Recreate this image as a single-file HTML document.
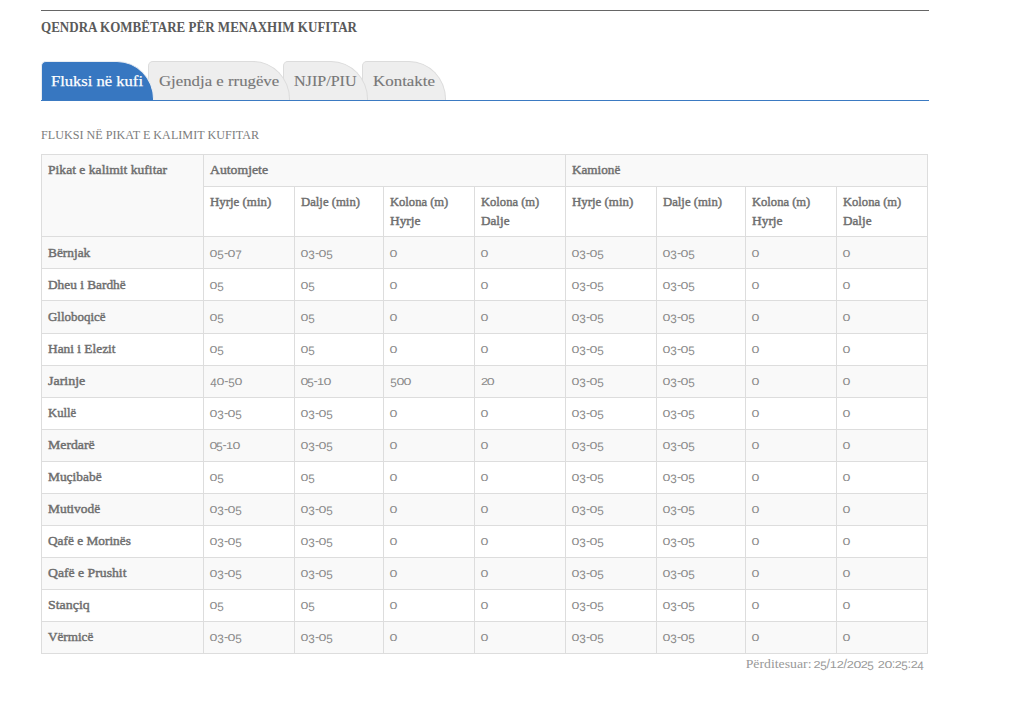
<!DOCTYPE html>
<html lang="sq"><head><meta charset="utf-8"><title>Qendra Kombëtare për Menaxhim Kufitar</title>
<style>
*{box-sizing:border-box;margin:0;padding:0}
html,body{width:1019px;height:704px;background:#fff;overflow:hidden}
body{font-family:"Liberation Serif",serif;color:#777;position:relative}
.t{white-space:pre;display:inline-block;transform-origin:0 0;vertical-align:top}
.title{font-size:14px;line-height:20px;font-weight:bold;color:#5a5a5a}
.tab{font-size:15.4px;line-height:20px;-webkit-text-stroke:.12px currentColor}
.on .tab{-webkit-text-stroke:.25px #fff}
.sec{font-size:13px;line-height:20px;color:#7c7c7c}
.th{font-size:13.4px;line-height:19px;font-weight:normal;color:#6e6e6e;-webkit-text-stroke:.45px #6e6e6e}
.td,.fnum{font-family:"Liberation Sans",sans-serif;font-size:12.7px;line-height:19px;color:#8a8a8a;position:relative;top:1px;text-rendering:geometricPrecision}
.foot{font-size:13.3px;line-height:19px;color:#999}
.fnum{color:#999}
/* old-style figure emulation: x = x-height digits, d = descending digits */
.td i,.fnum i{font-style:normal;display:inline-block;transform-origin:50% 14px}
i.z{transform:scale(1.12,.78);margin:0 .2px}
i.z:first-child{margin-left:.3px}
i.x{transform:scale(1,.78)}
i.d{transform:translateY(2px) scale(.92,.96);margin:0 -.4px}
#rule{position:absolute;left:41px;top:10px;width:888px;height:1px;background:#666}
#title{position:absolute;left:40.5px;top:18px;height:20px}
#tabs{position:absolute;left:41px;top:61px;width:888px;height:40px;border-bottom:1px solid #3b7ac2}
.tb{position:absolute;top:0;height:39px;border:1px solid #dcdcdc;border-bottom:0;background:#eee;color:#777;
  padding-top:9px;border-radius:5px 37px 0 0 / 5px 38px 0 0}
.tb.on{background:#3777c1;border-color:#e9edf2;color:#fff}
#sec{position:absolute;left:41px;top:125px;height:20px}
table{position:absolute;left:41px;top:154px;width:887px;border-collapse:collapse;table-layout:fixed}
td,th{border:1px solid #ddd;padding:5px 6px 7px;text-align:left;vertical-align:top;font-weight:normal;overflow:hidden;white-space:nowrap;font-size:13.4px;line-height:19px}
tr.g>*{background:#f9f9f9}
tr.w>*{background:#fff}
tr.h2>th{padding-bottom:6px}
tr.lo>td{padding-top:6px;padding-bottom:6px}
#foot{position:absolute;left:700px;top:654px;width:223.5px;height:19px;text-align:right;white-space:nowrap}
#foot .t{transform-origin:100% 0}
#foot .foot{margin-right:-2px}
</style></head><body>
<div id="rule"></div>
<div id="title"><span class="t title" style="transform:scaleX(0.9311)">QENDRA KOMBËTARE PËR MENAXHIM KUFITAR</span></div>
<div id="tabs">
<div class="tb on" style="left:0px;width:113px;padding-left:9px;z-index:4"><span class="t tab" style="transform:scaleX(1.0758)">Fluksi në kufi</span></div>
<div class="tb " style="left:107px;width:142px;padding-left:9.5px;z-index:3"><span class="t tab" style="transform:scaleX(1.0902)">Gjendja e rrugëve</span></div>
<div class="tb " style="left:242px;width:85px;padding-left:10.4px;z-index:2"><span class="t tab" style="transform:scaleX(1.0455)">NJIP/PIU</span></div>
<div class="tb " style="left:321px;width:84px;padding-left:10px;z-index:1"><span class="t tab" style="transform:scaleX(1.0989)">Kontakte</span></div>
</div>
<div id="sec"><span class="t sec" style="transform:scaleX(0.9334)">FLUKSI NË PIKAT E KALIMIT KUFITAR</span></div>
<table><colgroup><col style="width:162px"><col style="width:91px"><col style="width:89px"><col style="width:91px"><col style="width:91px"><col style="width:91px"><col style="width:89px"><col style="width:91px"><col style="width:91px"></colgroup>
<tr class="g" style="height:32px"><th rowspan="2"><span class="t th" style="transform:scaleX(1.0157)">Pikat e kalimit kufitar</span></th><th colspan="4"><span class="t th" style="transform:scaleX(1.026)">Automjete</span></th><th colspan="4"><span class="t th" style="transform:scaleX(0.9838)">Kamionë</span></th></tr>
<tr class="w h2" style="height:50px"><th><span class="t th" style="transform:scaleX(0.9624)">Hyrje (min)</span></th><th><span class="t th" style="transform:scaleX(0.9499)">Dalje (min)</span></th><th><span class="t th" style="transform:scaleX(0.9387)">Kolona (m)</span><br><span class="t th" style="transform:scaleX(1.0)">Hyrje</span></th><th><span class="t th" style="transform:scaleX(0.9387)">Kolona (m)</span><br><span class="t th" style="transform:scaleX(0.9828)">Dalje</span></th><th><span class="t th" style="transform:scaleX(0.9624)">Hyrje (min)</span></th><th><span class="t th" style="transform:scaleX(0.9499)">Dalje (min)</span></th><th><span class="t th" style="transform:scaleX(0.9387)">Kolona (m)</span><br><span class="t th" style="transform:scaleX(1.0)">Hyrje</span></th><th><span class="t th" style="transform:scaleX(0.9387)">Kolona (m)</span><br><span class="t th" style="transform:scaleX(0.9828)">Dalje</span></th></tr>
<tr class="g lo" style="height:32px"><td><span class="t th" style="transform:scaleX(0.9979)">Bërnjak</span></td><td><span class="t td" style="letter-spacing:0.03px"><i class="z">0</i><i class="d">5</i>-<i class="z">0</i><i class="d">7</i></span></td><td><span class="t td" style="letter-spacing:0.03px"><i class="z">0</i><i class="d">3</i>-<i class="z">0</i><i class="d">5</i></span></td><td><span class="t td" style="letter-spacing:0px"><i class="z">0</i></span></td><td><span class="t td" style="letter-spacing:0px"><i class="z">0</i></span></td><td><span class="t td" style="letter-spacing:0.03px"><i class="z">0</i><i class="d">3</i>-<i class="z">0</i><i class="d">5</i></span></td><td><span class="t td" style="letter-spacing:0.03px"><i class="z">0</i><i class="d">3</i>-<i class="z">0</i><i class="d">5</i></span></td><td><span class="t td" style="letter-spacing:0px"><i class="z">0</i></span></td><td><span class="t td" style="letter-spacing:0px"><i class="z">0</i></span></td></tr>
<tr class="w lo" style="height:32px"><td><span class="t th" style="transform:scaleX(0.995)">Dheu i Bardhë</span></td><td><span class="t td" style="letter-spacing:0.172px"><i class="z">0</i><i class="d">5</i></span></td><td><span class="t td" style="letter-spacing:0.172px"><i class="z">0</i><i class="d">5</i></span></td><td><span class="t td" style="letter-spacing:0px"><i class="z">0</i></span></td><td><span class="t td" style="letter-spacing:0px"><i class="z">0</i></span></td><td><span class="t td" style="letter-spacing:0.03px"><i class="z">0</i><i class="d">3</i>-<i class="z">0</i><i class="d">5</i></span></td><td><span class="t td" style="letter-spacing:0.03px"><i class="z">0</i><i class="d">3</i>-<i class="z">0</i><i class="d">5</i></span></td><td><span class="t td" style="letter-spacing:0px"><i class="z">0</i></span></td><td><span class="t td" style="letter-spacing:0px"><i class="z">0</i></span></td></tr>
<tr class="g lo" style="height:33px"><td><span class="t th" style="transform:scaleX(0.9681)">Glloboqicë</span></td><td><span class="t td" style="letter-spacing:0.172px"><i class="z">0</i><i class="d">5</i></span></td><td><span class="t td" style="letter-spacing:0.172px"><i class="z">0</i><i class="d">5</i></span></td><td><span class="t td" style="letter-spacing:0px"><i class="z">0</i></span></td><td><span class="t td" style="letter-spacing:0px"><i class="z">0</i></span></td><td><span class="t td" style="letter-spacing:0.03px"><i class="z">0</i><i class="d">3</i>-<i class="z">0</i><i class="d">5</i></span></td><td><span class="t td" style="letter-spacing:0.03px"><i class="z">0</i><i class="d">3</i>-<i class="z">0</i><i class="d">5</i></span></td><td><span class="t td" style="letter-spacing:0px"><i class="z">0</i></span></td><td><span class="t td" style="letter-spacing:0px"><i class="z">0</i></span></td></tr>
<tr class="w" style="height:32px"><td><span class="t th" style="transform:scaleX(0.9972)">Hani i Elezit</span></td><td><span class="t td" style="letter-spacing:0.172px"><i class="z">0</i><i class="d">5</i></span></td><td><span class="t td" style="letter-spacing:0.172px"><i class="z">0</i><i class="d">5</i></span></td><td><span class="t td" style="letter-spacing:0px"><i class="z">0</i></span></td><td><span class="t td" style="letter-spacing:0px"><i class="z">0</i></span></td><td><span class="t td" style="letter-spacing:0.03px"><i class="z">0</i><i class="d">3</i>-<i class="z">0</i><i class="d">5</i></span></td><td><span class="t td" style="letter-spacing:0.03px"><i class="z">0</i><i class="d">3</i>-<i class="z">0</i><i class="d">5</i></span></td><td><span class="t td" style="letter-spacing:0px"><i class="z">0</i></span></td><td><span class="t td" style="letter-spacing:0px"><i class="z">0</i></span></td></tr>
<tr class="g" style="height:32px"><td><span class="t th" style="transform:scaleX(1.0447)">Jarinje</span></td><td><span class="t td" style="letter-spacing:0.207px"><i class="d">4</i><i class="z">0</i>-<i class="d">5</i><i class="z">0</i></span></td><td><span class="t td" style="letter-spacing:-0.691px"><i class="z">0</i><i class="d">5</i>-<i class="x">1</i><i class="z">0</i></span></td><td><span class="t td" style="letter-spacing:0.022px"><i class="d">5</i><i class="z">0</i><i class="z">0</i></span></td><td><span class="t td" style="letter-spacing:-1.1px"><i class="x">2</i><i class="z">0</i></span></td><td><span class="t td" style="letter-spacing:0.03px"><i class="z">0</i><i class="d">3</i>-<i class="z">0</i><i class="d">5</i></span></td><td><span class="t td" style="letter-spacing:0.03px"><i class="z">0</i><i class="d">3</i>-<i class="z">0</i><i class="d">5</i></span></td><td><span class="t td" style="letter-spacing:0px"><i class="z">0</i></span></td><td><span class="t td" style="letter-spacing:0px"><i class="z">0</i></span></td></tr>
<tr class="w" style="height:32px"><td><span class="t th" style="transform:scaleX(0.9479)">Kullë</span></td><td><span class="t td" style="letter-spacing:0.03px"><i class="z">0</i><i class="d">3</i>-<i class="z">0</i><i class="d">5</i></span></td><td><span class="t td" style="letter-spacing:0.03px"><i class="z">0</i><i class="d">3</i>-<i class="z">0</i><i class="d">5</i></span></td><td><span class="t td" style="letter-spacing:0px"><i class="z">0</i></span></td><td><span class="t td" style="letter-spacing:0px"><i class="z">0</i></span></td><td><span class="t td" style="letter-spacing:0.03px"><i class="z">0</i><i class="d">3</i>-<i class="z">0</i><i class="d">5</i></span></td><td><span class="t td" style="letter-spacing:0.03px"><i class="z">0</i><i class="d">3</i>-<i class="z">0</i><i class="d">5</i></span></td><td><span class="t td" style="letter-spacing:0px"><i class="z">0</i></span></td><td><span class="t td" style="letter-spacing:0px"><i class="z">0</i></span></td></tr>
<tr class="g" style="height:32px"><td><span class="t th" style="transform:scaleX(1.0296)">Merdarë</span></td><td><span class="t td" style="letter-spacing:-0.691px"><i class="z">0</i><i class="d">5</i>-<i class="x">1</i><i class="z">0</i></span></td><td><span class="t td" style="letter-spacing:0.03px"><i class="z">0</i><i class="d">3</i>-<i class="z">0</i><i class="d">5</i></span></td><td><span class="t td" style="letter-spacing:0px"><i class="z">0</i></span></td><td><span class="t td" style="letter-spacing:0px"><i class="z">0</i></span></td><td><span class="t td" style="letter-spacing:0.03px"><i class="z">0</i><i class="d">3</i>-<i class="z">0</i><i class="d">5</i></span></td><td><span class="t td" style="letter-spacing:0.03px"><i class="z">0</i><i class="d">3</i>-<i class="z">0</i><i class="d">5</i></span></td><td><span class="t td" style="letter-spacing:0px"><i class="z">0</i></span></td><td><span class="t td" style="letter-spacing:0px"><i class="z">0</i></span></td></tr>
<tr class="w" style="height:32px"><td><span class="t th" style="transform:scaleX(1.001)">Muçibabë</span></td><td><span class="t td" style="letter-spacing:0.172px"><i class="z">0</i><i class="d">5</i></span></td><td><span class="t td" style="letter-spacing:0.172px"><i class="z">0</i><i class="d">5</i></span></td><td><span class="t td" style="letter-spacing:0px"><i class="z">0</i></span></td><td><span class="t td" style="letter-spacing:0px"><i class="z">0</i></span></td><td><span class="t td" style="letter-spacing:0.03px"><i class="z">0</i><i class="d">3</i>-<i class="z">0</i><i class="d">5</i></span></td><td><span class="t td" style="letter-spacing:0.03px"><i class="z">0</i><i class="d">3</i>-<i class="z">0</i><i class="d">5</i></span></td><td><span class="t td" style="letter-spacing:0px"><i class="z">0</i></span></td><td><span class="t td" style="letter-spacing:0px"><i class="z">0</i></span></td></tr>
<tr class="g" style="height:32px"><td><span class="t th" style="transform:scaleX(1.0023)">Mutivodë</span></td><td><span class="t td" style="letter-spacing:0.03px"><i class="z">0</i><i class="d">3</i>-<i class="z">0</i><i class="d">5</i></span></td><td><span class="t td" style="letter-spacing:0.03px"><i class="z">0</i><i class="d">3</i>-<i class="z">0</i><i class="d">5</i></span></td><td><span class="t td" style="letter-spacing:0px"><i class="z">0</i></span></td><td><span class="t td" style="letter-spacing:0px"><i class="z">0</i></span></td><td><span class="t td" style="letter-spacing:0.03px"><i class="z">0</i><i class="d">3</i>-<i class="z">0</i><i class="d">5</i></span></td><td><span class="t td" style="letter-spacing:0.03px"><i class="z">0</i><i class="d">3</i>-<i class="z">0</i><i class="d">5</i></span></td><td><span class="t td" style="letter-spacing:0px"><i class="z">0</i></span></td><td><span class="t td" style="letter-spacing:0px"><i class="z">0</i></span></td></tr>
<tr class="w" style="height:32px"><td><span class="t th" style="transform:scaleX(0.9952)">Qafë e Morinës</span></td><td><span class="t td" style="letter-spacing:0.03px"><i class="z">0</i><i class="d">3</i>-<i class="z">0</i><i class="d">5</i></span></td><td><span class="t td" style="letter-spacing:0.03px"><i class="z">0</i><i class="d">3</i>-<i class="z">0</i><i class="d">5</i></span></td><td><span class="t td" style="letter-spacing:0px"><i class="z">0</i></span></td><td><span class="t td" style="letter-spacing:0px"><i class="z">0</i></span></td><td><span class="t td" style="letter-spacing:0.03px"><i class="z">0</i><i class="d">3</i>-<i class="z">0</i><i class="d">5</i></span></td><td><span class="t td" style="letter-spacing:0.03px"><i class="z">0</i><i class="d">3</i>-<i class="z">0</i><i class="d">5</i></span></td><td><span class="t td" style="letter-spacing:0px"><i class="z">0</i></span></td><td><span class="t td" style="letter-spacing:0px"><i class="z">0</i></span></td></tr>
<tr class="g" style="height:32px"><td><span class="t th" style="transform:scaleX(1.0247)">Qafë e Prushit</span></td><td><span class="t td" style="letter-spacing:0.03px"><i class="z">0</i><i class="d">3</i>-<i class="z">0</i><i class="d">5</i></span></td><td><span class="t td" style="letter-spacing:0.03px"><i class="z">0</i><i class="d">3</i>-<i class="z">0</i><i class="d">5</i></span></td><td><span class="t td" style="letter-spacing:0px"><i class="z">0</i></span></td><td><span class="t td" style="letter-spacing:0px"><i class="z">0</i></span></td><td><span class="t td" style="letter-spacing:0.03px"><i class="z">0</i><i class="d">3</i>-<i class="z">0</i><i class="d">5</i></span></td><td><span class="t td" style="letter-spacing:0.03px"><i class="z">0</i><i class="d">3</i>-<i class="z">0</i><i class="d">5</i></span></td><td><span class="t td" style="letter-spacing:0px"><i class="z">0</i></span></td><td><span class="t td" style="letter-spacing:0px"><i class="z">0</i></span></td></tr>
<tr class="w" style="height:32px"><td><span class="t th" style="transform:scaleX(1.038)">Stançiq</span></td><td><span class="t td" style="letter-spacing:0.172px"><i class="z">0</i><i class="d">5</i></span></td><td><span class="t td" style="letter-spacing:0.172px"><i class="z">0</i><i class="d">5</i></span></td><td><span class="t td" style="letter-spacing:0px"><i class="z">0</i></span></td><td><span class="t td" style="letter-spacing:0px"><i class="z">0</i></span></td><td><span class="t td" style="letter-spacing:0.03px"><i class="z">0</i><i class="d">3</i>-<i class="z">0</i><i class="d">5</i></span></td><td><span class="t td" style="letter-spacing:0.03px"><i class="z">0</i><i class="d">3</i>-<i class="z">0</i><i class="d">5</i></span></td><td><span class="t td" style="letter-spacing:0px"><i class="z">0</i></span></td><td><span class="t td" style="letter-spacing:0px"><i class="z">0</i></span></td></tr>
<tr class="g" style="height:32px"><td><span class="t th" style="transform:scaleX(0.9824)">Vërmicë</span></td><td><span class="t td" style="letter-spacing:0.03px"><i class="z">0</i><i class="d">3</i>-<i class="z">0</i><i class="d">5</i></span></td><td><span class="t td" style="letter-spacing:0.03px"><i class="z">0</i><i class="d">3</i>-<i class="z">0</i><i class="d">5</i></span></td><td><span class="t td" style="letter-spacing:0px"><i class="z">0</i></span></td><td><span class="t td" style="letter-spacing:0px"><i class="z">0</i></span></td><td><span class="t td" style="letter-spacing:0.03px"><i class="z">0</i><i class="d">3</i>-<i class="z">0</i><i class="d">5</i></span></td><td><span class="t td" style="letter-spacing:0.03px"><i class="z">0</i><i class="d">3</i>-<i class="z">0</i><i class="d">5</i></span></td><td><span class="t td" style="letter-spacing:0px"><i class="z">0</i></span></td><td><span class="t td" style="letter-spacing:0px"><i class="z">0</i></span></td></tr>
</table>
<div id="foot"><span class="t foot" style="transform:scaleX(1.036)">Përditesuar:</span> <span class="t fnum" style="letter-spacing:-0.219px"><i class="x">2</i><i class="d">5</i>/<i class="x">1</i><i class="x">2</i>/<i class="x">2</i><i class="z">0</i><i class="x">2</i><i class="d">5</i></span> <span class="t fnum" style="letter-spacing:-0.321px"><i class="x">2</i><i class="z">0</i>:<i class="x">2</i><i class="d">5</i>:<i class="x">2</i><i class="d">4</i></span></div>
</body></html>
